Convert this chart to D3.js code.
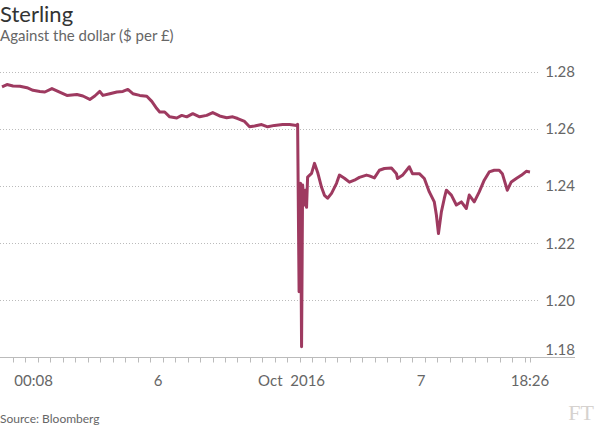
<!DOCTYPE html>
<html>
<head>
<meta charset="utf-8">
<script src="https://cdn.jsdelivr.net/npm/d3@7"></script>
<style>
	body { margin: 0; background: #fff; }
	svg { display: block; font-family: Lato, 'Open Sans', sans-serif; }
	.grid line { stroke: #bbb; stroke-dasharray: 1,2; }
	.axis text { fill: #666; font-size: 15px; }
</style>
</head>
<body>
<svg></svg>
<script>
'use strict'

// Sterling vs dollar, 6-7 Oct 2016 (London time)
let title = 'Sterling',
	subtitle = 'Against the dollar ($ per £)',
	source = 'Source: Bloomberg',
	t_start = '2016-10-06 00:08', t_end = '2016-10-07 18:26'

let times = [
	'10-06 00:08', '10-06 00:32', '10-06 01:01', '10-06 01:34', '10-06 02:08', '10-06 02:37',
	'10-06 03:10', '10-06 03:34', '10-06 04:08', '10-06 04:37', '10-06 05:20', '10-06 06:08',
	'10-06 06:37', '10-06 07:10', '10-06 07:34', '10-06 07:58', '10-06 08:13', '10-06 08:46',
	'10-06 09:20', '10-06 09:49', '10-06 10:13', '10-06 10:37', '10-06 11:10', '10-06 11:44',
	'10-06 12:08', '10-06 12:32', '10-06 12:46', '10-06 13:10', '10-06 13:34', '10-06 14:08',
	'10-06 14:32', '10-06 14:56', '10-06 15:25', '10-06 15:58', '10-06 16:32', '10-06 17:01',
	'10-06 17:34', '10-06 18:08', '10-06 18:37', '10-06 19:01', '10-06 19:34', '10-06 19:58',
	'10-06 20:22', '10-06 20:56', '10-06 21:25', '10-06 21:58', '10-06 22:37', '10-06 23:10',
	'10-06 23:44', '10-06 23:49', '10-06 23:56', '10-07 00:03', '10-07 00:08', '10-07 00:13',
	'10-07 00:22', '10-07 00:27', '10-07 00:32', '10-07 00:37', '10-07 00:56', '10-07 01:10',
	'10-07 01:25', '10-07 01:44', '10-07 01:58', '10-07 02:13', '10-07 02:32', '10-07 02:56',
	'10-07 03:10', '10-07 03:34', '10-07 03:58', '10-07 04:22', '10-07 04:46', '10-07 05:20',
	'10-07 05:34', '10-07 05:58', '10-07 06:22', '10-07 06:46', '10-07 07:20', '10-07 07:44',
	'10-07 07:49', '10-07 08:13', '10-07 08:46', '10-07 09:01', '10-07 09:34', '10-07 09:58',
	'10-07 10:22', '10-07 10:46', '10-07 10:56', '10-07 11:06', '10-07 11:20', '10-07 11:34',
	'10-07 11:44', '10-07 12:08', '10-07 12:32', '10-07 12:56', '10-07 13:20', '10-07 13:34',
	'10-07 13:58', '10-07 14:22', '10-07 14:46', '10-07 15:10', '10-07 15:34', '10-07 15:58',
	'10-07 16:13', '10-07 16:37', '10-07 16:56', '10-07 17:20', '10-07 17:44', '10-07 18:08',
	'10-07 18:26' ]

let rates = [
	1.2748, 1.2756, 1.2751, 1.2750, 1.2745, 1.2736,
	1.2732, 1.2730, 1.2742, 1.2732, 1.2718, 1.2721,
	1.2716, 1.2704, 1.2716, 1.2732, 1.2718, 1.2724,
	1.2730, 1.2732, 1.2739, 1.2724, 1.2718, 1.2715,
	1.2697, 1.2672, 1.2660, 1.2660, 1.2643, 1.2639,
	1.2648, 1.2643, 1.2654, 1.2643, 1.2648, 1.2658,
	1.2646, 1.2640, 1.2643, 1.2637, 1.2627, 1.2608,
	1.2611, 1.2616, 1.2608, 1.2613, 1.2616, 1.2616,
	1.2613, 1.2617, 1.2030, 1.2410, 1.1838, 1.2404,
	1.2334, 1.2386, 1.2326, 1.2432, 1.2445, 1.2480,
	1.2449, 1.2396, 1.2368, 1.2358, 1.2375, 1.2410,
	1.2439, 1.2428, 1.2414, 1.2421, 1.2431, 1.2439,
	1.2436, 1.2429, 1.2456, 1.2462, 1.2464, 1.2444,
	1.2427, 1.2438, 1.2468, 1.2444, 1.2444, 1.2427,
	1.2380, 1.2345, 1.2299, 1.2234, 1.2310, 1.2357,
	1.2386, 1.2369, 1.2334, 1.2345, 1.2322, 1.2369,
	1.2345, 1.2380, 1.2421, 1.2450, 1.2456, 1.2456,
	1.2444, 1.2386, 1.2415, 1.2427, 1.2438, 1.2452,
	1.2450 ]

let y_ticks = [1.18, 1.20, 1.22, 1.24, 1.26, 1.28],
	x_labels = ['00:08', '6', 'Oct 2016', '7', '18:26'],
	x_label_times = ['10-06 02:40', '10-06 12:38', '10-06 23:20', '10-07 09:42', '10-07 18:26']


let parse = d3.timeParse('%Y-%m-%d %H:%M'),
	parse_md = s => parse('2016-' + s),
	data = d3.zip(times, rates).map(([t, v]) => ({ts: parse_md(t), v: v}))

let W = 600, H = 426,
	plot = {left: 2, right: 530, top: 72, bottom: 357.5},
	x = d3.scaleTime().domain([parse(t_start), parse(t_end)]).range([plot.left, plot.right]),
	y = d3.scaleLinear().domain([1.18, 1.28]).range([plot.bottom, plot.top])

let svg = d3.select('svg').attr('width', W).attr('height', H)

svg.append('text').attr('x', 0).attr('y', 22)
	.attr('font-size', 22).attr('fill', '#333').text(title)
svg.append('text').attr('x', 0).attr('y', 41)
	.attr('font-size', 15).attr('fill', '#666').text(subtitle)

// y grid + labels on the right
svg.append('g').attr('class', 'grid')
	.selectAll('line').data(y_ticks.filter(v => v > 1.18)).join('line')
		.attr('x1', 0).attr('x2', 538)
		.attr('y1', d => Math.round(y(d)) + 0.5).attr('y2', d => Math.round(y(d)) + 0.5)

svg.append('g').attr('class', 'axis')
	.selectAll('text').data(y_ticks).join('text')
		.attr('x', 575).attr('y', d => y(d) - (d === 1.18 ? 8 : 0))
		.attr('dy', '0.35em').attr('text-anchor', 'end')
		.text(d3.format('.2f'))

// x axis: baseline, hourly ticks, labels
let xa = svg.append('g').attr('class', 'axis')
xa.append('line').attr('x1', 0).attr('x2', 575)
	.attr('y1', plot.bottom).attr('y2', plot.bottom)
	.attr('stroke', '#bbb').attr('stroke-width', 1.2)
xa.selectAll('line.tick')
	.data(d3.timeHour.range(parse(t_start), parse(t_end)).concat([parse(t_end)]))
	.join('line').attr('class', 'tick')
		.attr('x1', d => Math.round(x(d)) + 0.5).attr('x2', d => Math.round(x(d)) + 0.5)
		.attr('y1', plot.bottom).attr('y2', plot.bottom + 5)
		.attr('stroke', '#bbb')
xa.selectAll('text').data(d3.zip(x_labels, x_label_times)).join('text')
	.attr('x', d => x(parse_md(d[1]))).attr('y', 386)
	.attr('text-anchor', 'middle').attr('xml:space', 'preserve')
	.text(d => d[0].replace(' ', '  '))

svg.append('path').datum(data)
	.attr('fill', 'none').attr('stroke', '#9e3a60')
	.attr('stroke-width', 3).attr('stroke-linejoin', 'round')
	.attr('d', d3.line().x(d => x(d.ts)).y(d => y(d.v)))

svg.append('text').attr('x', 0).attr('y', 423)
	.attr('font-size', 12).attr('fill', '#666').text(source)
svg.append('text').attr('x', 594).attr('y', 420).attr('text-anchor', 'end')
	.attr('font-family', "'Liberation Serif', serif").attr('font-size', 22)
	.attr('fill', '#d6d2cf').text('FT')
</script>
</body>
</html>
